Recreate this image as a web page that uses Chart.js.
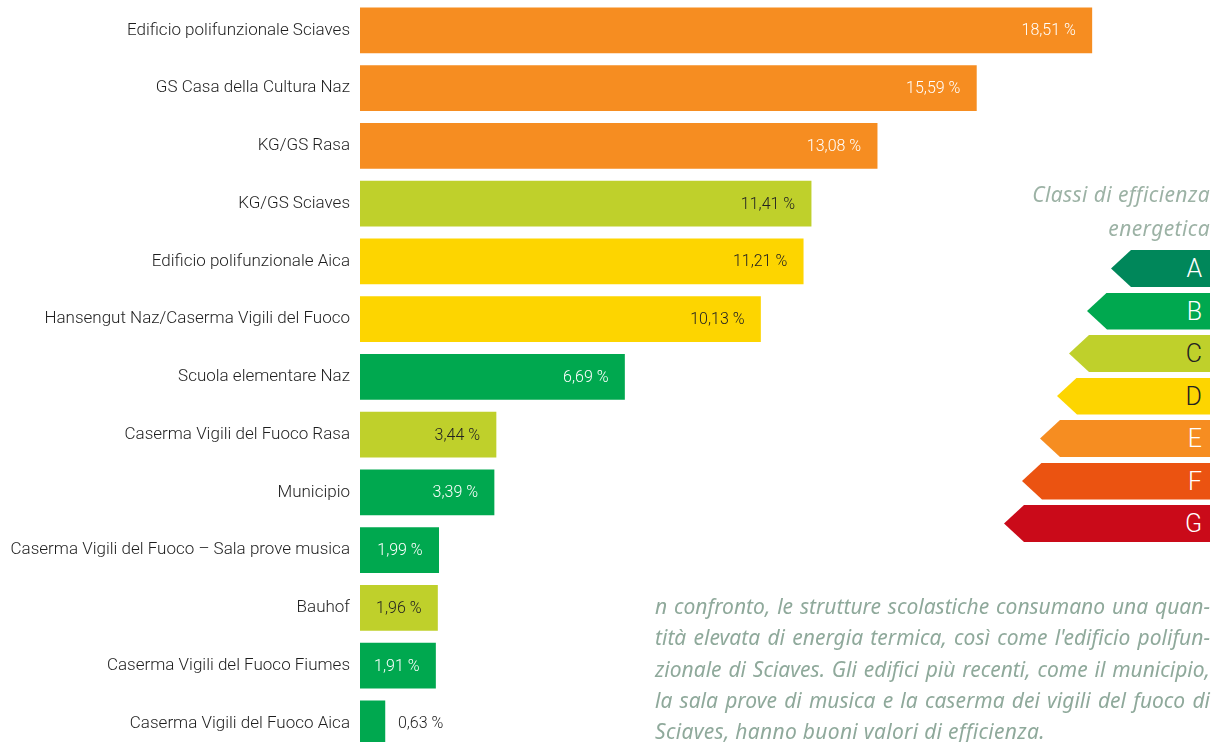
<!DOCTYPE html>
<html lang="it">
<head>
<meta charset="utf-8">
<title>Consumo energia termica</title>
<script src="https://cdn.jsdelivr.net/npm/chart.js@4"></script>
<style>
  html, body { margin: 0; padding: 0; background: #fff; overflow: hidden; }
  #wrap { position: absolute; left: 0; top: 0; width: 1214px; height: 754px; }
  #legend { position: absolute; right: 4px; top: 180px; width: 220px; }
  #legend .title { position: relative; top: -3px; font-family: "Noto Sans", sans-serif; font-style: italic;
    font-size: 21px; letter-spacing: 0.4px; color: #9cb2a5; text-align: right; line-height: 34px; }
  #legend .cls { position: absolute; right: 0; height: 37px; font-family: Roboto, sans-serif;
    font-weight: 300; font-size: 25px; line-height: 37px; text-align: right; padding-right: 8px;
    box-sizing: border-box; clip-path: polygon(20px 0, 100% 0, 100% 100%, 20px 100%, 0 50%); }
  #text { position: absolute; left: 655px; top: 591px; width: 555px; font-family: "Noto Sans", sans-serif;
    font-style: italic; font-size: 21px; line-height: 31.3px; color: #8fa99b; }
  #text div { text-align: justify; text-align-last: justify; white-space: nowrap; }
  #text div.last { text-align-last: left; letter-spacing: 0.3px; }
</style>
</head>
<body>
<div id="wrap"><canvas id="chart"></canvas></div>
<div id="legend">
  <div class="title">Classi di efficienza<br>energetica</div>
</div>
<div id="text">
  <div>n confronto, le strutture scolastiche consumano una quan-</div>
  <div>tità elevata di energia termica, così come l'edificio polifun-</div>
  <div>zionale di Sciaves. Gli edifici più recenti, come il municipio,</div>
  <div>la sala prove di musica e la caserma dei vigili del fuoco di</div>
  <div class="last">Sciaves, hanno buoni valori di efficienza.</div>
</div>
<script>
// buildings, sorted by share of thermal energy
const buildings = [
  'Edificio polifunzionale Sciaves',
  'GS Casa della Cultura Naz',
  'KG/GS Rasa',
  'KG/GS Sciaves',
  'Edificio polifunzionale Aica',
  'Hansengut Naz/Caserma Vigili del Fuoco',
  'Scuola elementare Naz',
  'Caserma Vigili del Fuoco Rasa',
  'Municipio',
  'Caserma Vigili del Fuoco \u2013 Sala prove musica',
  'Bauhof',
  'Caserma Vigili del Fuoco Fiumes',
  'Caserma Vigili del Fuoco Aica'
];
const shares = [18.51, 15.59, 13.08, 11.41, 11.21, 10.13, 6.69, 3.44, 3.39, 1.99, 1.96, 1.91, 0.63];
const buildingClass = ['E', 'E', 'E', 'C', 'D', 'D', 'B', 'C', 'B', 'B', 'C', 'B', 'B'];

// efficiency classes
const classes = ['A', 'B', 'C', 'D', 'E', 'F', 'G'];
const classColors = ['#00875a', '#00a84f', '#bfd02b', '#fdd500', '#f68d21', '#eb5311', '#ca0a19'];
const classText = ['#fff', '#fff', '#222', '#222', '#fff', '#fff', '#fff'];

const colorOf = c => classColors[classes.indexOf(c)];
const textOf = c => classText[classes.indexOf(c)];

// legend arrows
const legend = document.getElementById('legend');
const arrowWidths = [99, 123, 141, 153, 170, 188, 206];
classes.forEach((c, i) => {
  const d = document.createElement('div');
  d.className = 'cls';
  d.textContent = c;
  d.style.top = (70 + i * 42.5) + 'px';
  d.style.width = arrowWidths[i] + 'px';
  d.style.background = classColors[i];
  d.style.color = classText[i];
  legend.appendChild(d);
});

const valueLabels = {
  id: 'valueLabels',
  afterDatasetsDraw(chart) {
    const ctx = chart.ctx;
    const meta = chart.getDatasetMeta(0);
    ctx.save();
    ctx.font = '300 16px Roboto, sans-serif';
    ctx.textBaseline = 'middle';
    meta.data.forEach((bar, i) => {
      const txt = shares[i].toFixed(2).replace('.', ',') + ' %';
      const w = bar.x - bar.base;
      if (w > 70) {
        ctx.textAlign = 'right';
        ctx.fillStyle = textOf(buildingClass[i]);
        ctx.fillText(txt, bar.x - 16, bar.y + 1);
      } else {
        ctx.textAlign = 'left';
        ctx.fillStyle = '#222';
        ctx.fillText(txt, bar.x + 13, bar.y + 1);
      }
    });
    ctx.restore();
  }
};

new Chart(document.getElementById('chart'), {
  type: 'bar',
  data: {
    labels: buildings,
    datasets: [{
      data: shares,
      backgroundColor: buildingClass.map(colorOf),
      borderWidth: 0,
      barThickness: 45
    }]
  },
  options: {
    indexAxis: 'y',
    responsive: true,
    maintainAspectRatio: false,
    animation: false,
    layout: { padding: { top: 1.5, bottom: 1.75, left: 0, right: 0 } },
    plugins: { legend: { display: false }, tooltip: { enabled: false } },
    scales: {
      x: { display: false, min: 0, max: 21.6 },
      y: {
        grid: { display: false, drawTicks: false },
        border: { display: false },
        ticks: { padding: 10, color: '#1e1e1e', font: { family: 'Roboto', size: 17, weight: 300 } },
        afterFit: s => { s.width = 360; s.paddingTop = 0; s.paddingBottom = 0; }
      }
    }
  },
  plugins: [valueLabels]
});
</script>
</body>
</html>
